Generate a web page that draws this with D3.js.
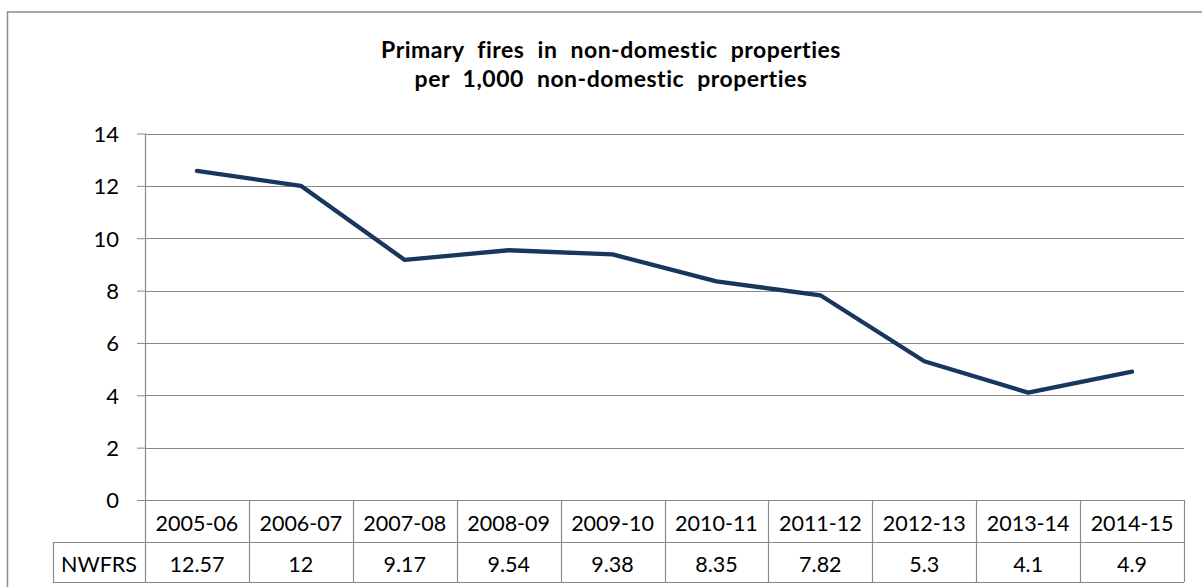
<!DOCTYPE html>
<html>
<head>
<meta charset="utf-8">
<script src="https://cdn.jsdelivr.net/npm/d3@7"></script>
<style>
  html, body { margin: 0; padding: 0; background: #fff; }
  svg { display: block; }
  text { font-family: Lato, "Open Sans", sans-serif; fill: #000; font-variant-ligatures: none; }
</style>
</head>
<body>
<svg id="chart" width="1202" height="587"></svg>
<script>
const titleLines = ["Primary fires in non-domestic properties", "per 1,000 non-domestic properties"];
const categories = ["2005-06","2006-07","2007-08","2008-09","2009-10","2010-11","2011-12","2012-13","2013-14","2014-15"];
const seriesName = "NWFRS";
const values = [12.57, 12, 9.17, 9.54, 9.38, 8.35, 7.82, 5.3, 4.1, 4.9];
const yTicks = [0, 2, 4, 6, 8, 10, 12, 14];

const svg = d3.select("#chart");
const W = 1202, H = 587;
const plot = { left: 145, right: 1184, top: 133.5, bottom: 500 };
const row1Bottom = 542, row2Bottom = 582, tableLeft = 53;
const gridColor = "#8a8a8a";

// outer chart border
svg.append("rect")
  .attr("x", 7.5).attr("y", 12).attr("width", W + 10).attr("height", H + 10)
  .attr("fill", "none").attr("stroke", gridColor).attr("stroke-width", 1.5);

// title
const title = svg.append("text")
  .attr("text-anchor", "middle")
  .attr("font-weight", "bold")
  .attr("font-size", 23)
  .attr("letter-spacing", 0.5)
  .attr("word-spacing", 7);
titleLines.forEach((t, i) => {
  title.append("tspan").attr("x", 611).attr("y", 58 + i * 29).text(t);
});

const x = d3.scaleBand().domain(categories).range([plot.left, plot.right]).padding(0);
const y = d3.scaleLinear().domain([0, 14]).range([plot.bottom, plot.top]);

// gridlines + y axis
const yAxis = d3.axisLeft(y).tickValues(yTicks).tickSize(8).tickPadding(18).tickFormat(d3.format("d"));
const gy = svg.append("g").attr("transform", `translate(${plot.left},0)`).call(yAxis);
gy.select(".domain").remove();
gy.selectAll(".tick line").attr("stroke", gridColor);
gy.selectAll(".tick text").attr("font-size", 22).attr("dy", "0.36em").style("font-family", "Lato, sans-serif");

svg.append("g").selectAll("line.grid").data(yTicks.filter(d => d > 0)).join("line")
  .attr("x1", plot.left).attr("x2", plot.right)
  .attr("y1", d => Math.round(y(d)) + 0.5).attr("y2", d => Math.round(y(d)) + 0.5)
  .attr("stroke", gridColor).attr("stroke-width", 1.2);

// vertical axis line
svg.append("line")
  .attr("x1", plot.left + 0.5).attr("x2", plot.left + 0.5)
  .attr("y1", plot.top).attr("y2", row2Bottom)
  .attr("stroke", gridColor).attr("stroke-width", 1.2);

// data table
const tbl = svg.append("g");
tbl.append("line").attr("x1", plot.left).attr("x2", plot.right)
  .attr("y1", plot.bottom + 0.5).attr("y2", plot.bottom + 0.5).attr("stroke", gridColor).attr("stroke-width", 1.2);
tbl.append("line").attr("x1", tableLeft).attr("x2", plot.right)
  .attr("y1", row1Bottom + 0.5).attr("y2", row1Bottom + 0.5).attr("stroke", gridColor).attr("stroke-width", 1.2);
tbl.append("line").attr("x1", tableLeft).attr("x2", plot.right)
  .attr("y1", row2Bottom + 0.5).attr("y2", row2Bottom + 0.5).attr("stroke", gridColor).attr("stroke-width", 1.2);
tbl.append("line").attr("x1", tableLeft + 0.5).attr("x2", tableLeft + 0.5)
  .attr("y1", row1Bottom).attr("y2", row2Bottom).attr("stroke", gridColor).attr("stroke-width", 1.2);
tbl.selectAll("line.sep").data(categories).join("line")
  .attr("x1", d => Math.round(x(d) + x.bandwidth()) + 0.5)
  .attr("x2", d => Math.round(x(d) + x.bandwidth()) + 0.5)
  .attr("y1", plot.bottom).attr("y2", row2Bottom)
  .attr("stroke", gridColor).attr("stroke-width", 1.2);
tbl.selectAll("text.cat").data(categories).join("text")
  .attr("x", d => x(d) + x.bandwidth() / 2)
  .attr("y", (plot.bottom + row1Bottom) / 2 + 2)
  .attr("dy", "0.36em").attr("text-anchor", "middle").attr("font-size", 21.5)
  .text(d => d);
tbl.selectAll("text.val").data(values).join("text")
  .attr("x", (d, i) => x(categories[i]) + x.bandwidth() / 2)
  .attr("y", (row1Bottom + row2Bottom) / 2 + 2)
  .attr("dy", "0.36em").attr("text-anchor", "middle").attr("font-size", 21.5)
  .text(d => d);
tbl.append("text")
  .attr("x", (tableLeft + plot.left) / 2).attr("y", (row1Bottom + row2Bottom) / 2 + 2)
  .attr("dy", "0.36em").attr("text-anchor", "middle").attr("font-size", 21.5)
  .text(seriesName);

// line series
const line = d3.line()
  .x((d, i) => x(categories[i]) + x.bandwidth() / 2)
  .y(d => y(d));
svg.append("path").datum(values)
  .attr("d", line)
  .attr("fill", "none")
  .attr("stroke", "#17375e")
  .attr("stroke-width", 4.3)
  .attr("stroke-linejoin", "round")
  .attr("stroke-linecap", "round");
</script>
</body>
</html>
